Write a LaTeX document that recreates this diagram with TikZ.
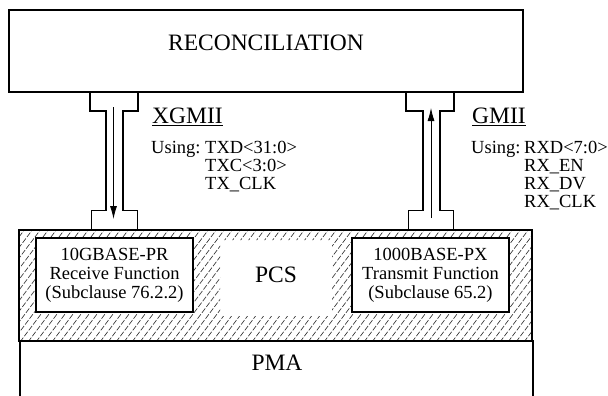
\documentclass[tikz,border=0pt]{standalone}
\usepackage{fontspec}
\setmainfont{Liberation Serif}
\usetikzlibrary{arrows.meta}

\tikzset{
  big/.style={font=\fontsize{23.5}{28}\selectfont, inner sep=0pt},
  small/.style={font=\fontsize{18.5}{19}\selectfont, inner sep=0pt},
  frame/.style={draw, line width=1.8pt},
  funcbox/.style={frame, fill=white, minimum width=157pt, minimum height=74pt,
    align=center, font=\fontsize{18.5}{19}\selectfont, inner sep=0pt},
  bus/.style={line width=1.7pt},
  buslow/.style={line width=0.9pt},
  sigarrow/.style={line width=0.8pt, -{Latex[length=13pt,width=7pt]}},
  hatch/.style={line width=0.65pt, black!80, dash pattern=on 5.5pt off 1.8pt},
}

\begin{document}
\begin{tikzpicture}[x=1pt, y=-1pt]
  \useasboundingbox (0,0) rectangle (608,396);

  % hatched PCS area (outer box minus function boxes and the clear label area)
  \begin{scope}[even odd rule]
    \clip (19,230) rectangle (532,341)
          (36,238) rectangle (193,312)
          (352,238) rectangle (509,312)
          (220,240) rectangle (332,316);
    \foreach \x in {-100,-92,...,540}
      \draw[hatch] (\x,342) -- (\x+85,229);
  \end{scope}

  % reconciliation sublayer
  \node[frame, minimum width=514pt, minimum height=82.5pt, inner sep=0pt]
    (rs) at (266,51) {};
  \node[big] (rstext) at (266,43) {RECONCILIATION};

  % PCS outline and its function blocks
  \node[frame, minimum width=513pt, minimum height=111pt, inner sep=0pt]
    (pcs) at (275.5,285.5) {};
  \node[funcbox] (rx) at (114.5,275) {10GBASE-PR\\Receive Function\\(Subclause 76.2.2)};
  \node[funcbox] (tx) at (430.5,275) {1000BASE-PX\\Transmit Function\\(Subclause 65.2)};
  \node[big] (pcstext) at (276,275) {PCS};

  % PMA (open at the bottom)
  \draw[line width=1.8pt] (20,397) -- (20,341) -- (533,341) -- (533,397);
  \node[big] (pmatext) at (277,363) {PMA};

  % XGMII bus outline
  \draw[bus] (90,92) -- (90,111) -- (106,111) -- (106,210.5);
  \draw[bus] (138,92) -- (138,111) -- (123,111) -- (123,210.5);
  \draw[buslow] (106,210) -- (91,210) -- (91,230);
  \draw[buslow] (123,210) -- (137,210) -- (137,230);
  \coordinate (xs) at (113.5,107);
  \coordinate (xe) at (113.5,219);
  \draw[sigarrow] (xs) -- (xe);

  % GMII bus outline
  \draw[bus] (406,92) -- (406,111) -- (423,111) -- (423,210.5);
  \draw[bus] (454,92) -- (454,111) -- (440,111) -- (440,210.5);
  \draw[buslow] (423,210) -- (408,210) -- (408,230);
  \draw[buslow] (440,210) -- (453,210) -- (453,230);
  \coordinate (gs) at (431,218);
  \coordinate (ge) at (431,108);
  \draw[sigarrow] (gs) -- (ge);

  % XGMII labels
  \node[big, anchor=base west] (xg) at (152,123) {XGMII};
  \draw[line width=1.1pt] ([yshift=-2.5pt]xg.base west) -- ([yshift=-2.5pt]xg.base east);
  \node[small, anchor=base west] (xu) at (151,153) {Using:};
  \node[small, anchor=base west] (x1) at (205,153) {TXD<31:0>};
  \node[small, anchor=base west] (x2) at (205,171) {TXC<3:0>};
  \node[small, anchor=base west] (x3) at (205,189) {TX\_CLK};

  % GMII labels
  \node[big, anchor=base west] (gg) at (472,123) {GMII};
  \draw[line width=1.1pt] ([yshift=-2.5pt]gg.base west) -- ([yshift=-2.5pt]gg.base east);
  \node[small, anchor=base west] (gu) at (471,153) {Using:};
  \node[small, anchor=base west] (g1) at (524,153) {RXD<7:0>};
  \node[small, anchor=base west] (g2) at (524,171) {RX\_EN};
  \node[small, anchor=base west] (g3) at (524,189) {RX\_DV};
  \node[small, anchor=base west] (g4) at (524,207) {RX\_CLK};
\end{tikzpicture}
\end{document}
